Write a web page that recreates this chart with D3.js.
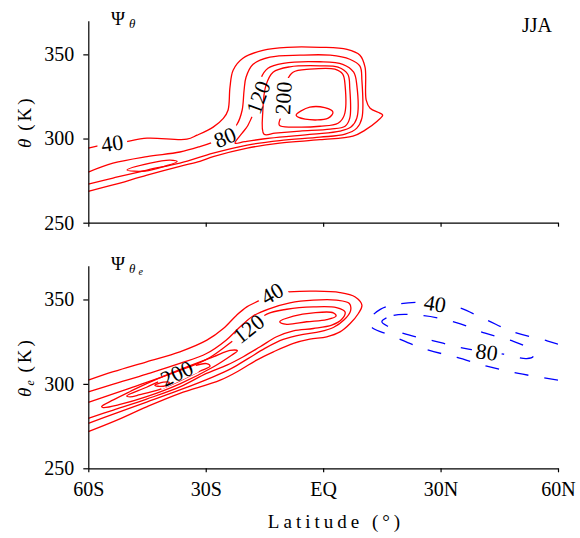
<!DOCTYPE html>
<html>
<head>
<meta charset="utf-8">
<script src="https://cdn.jsdelivr.net/npm/d3@7"></script>
<style>
  body { margin: 0; background: #fff; }
  svg text { font-family: "Liberation Serif", "Times New Roman", serif; }
</style>
</head>
<body>
<svg id="chart" width="580" height="538"></svg>
<script>
// ---- axes ----
const latTicks = [-60, -30, 0, 30, 60];
const latTickLabels = ["60S", "30S", "EQ", "30N", "60N"];
const thetaTicks = [250, 300, 350];
const thetaDomain = [250, 370];

// ---- Ψ_θ streamfunction contours: [latitude, θ (K)] ----
const psiTheta40 = [[-60,294.3],[-57,296],[-51.1,297.9],[-45,300.2],[-34.8,299.6],[-32.2,302],[-28.1,306.8],[-25.5,312],[-24.3,316.8],[-23.8,330.5],[-23,340.6],[-20.5,347.7],[-15.4,352.4],[-9.2,354.2],[-0.8,354.2],[6.1,353],[9.4,349.5],[10.7,342.4],[11,322.8],[12,318],[14.5,315.1],[15.2,313.9],[13.8,310.3],[10.7,305],[7.6,301.4],[-0.8,299.3],[-11.1,297.3],[-19.4,294.3],[-28.1,289.2],[-31.5,286.4],[-36.6,283.5],[-45,278.3],[-53.7,272.4],[-60,268.6]];
const psiTheta80 = [[-60,280.1],[-53.7,285.4],[-45,289.3],[-36.6,292],[-31.5,295.2],[-28.1,297.9],[-25.1,300.8],[-22,308.5],[-20.7,316.8],[-20.2,328.7],[-19.7,336.4],[-17.9,344.1],[-13.6,348.3],[-5.9,349.5],[1.8,349.5],[6.8,347.1],[9.4,343],[9.9,334.6],[9.9,312.1],[8.6,306.2],[5.6,302.6],[-0.8,300.8],[-11.1,298.8],[-19.4,296.1],[-28.1,291.3],[-36.6,285.4],[-45,281.3],[-53.7,276.5],[-60,272.9]];
const psiTheta120 = [[-22.5,297.3],[-20.7,303.2],[-19.2,307.9],[-16.6,324.5],[-15.9,335.8],[-14.1,341.8],[-10.2,344.7],[-0.8,345.6],[5,344.1],[7.8,339.4],[8.6,331.7],[8.6,312.1],[7.1,306.8],[4.3,304.4],[-2.6,302.6],[-13.6,300.2],[-20,298.2]];
const psiTheta120South = [[-50.1,281.3],[-44.2,285.4],[-39.1,287.2],[-37.3,286.3],[-40.4,283.6],[-45.5,280.7]];
const psiTheta160 = [[-15.1,302.6],[-15.4,316.8],[-14.6,331.7],[-12.8,339.4],[-8.5,342.6],[-0.8,343.2],[3.8,342.4],[6.3,338.2],[6.8,329.9],[6.8,312.1],[5.6,307.3],[1.8,305.6],[-5.9,304.4],[-12.3,303.2]];
const psiTheta200 = [[-11.2,307.9],[-10.4,315.7],[-10.2,324],[-9.2,334.6],[-7.7,339.4],[-3.4,341.2],[3,341.2],[5,338.2],[5.6,331.7],[5.4,313.9],[3.8,309.1],[-0.8,307.3],[-7.2,306.8]];
const psiTheta240 = [[-6.9,313.9],[-3.4,318.6],[0.4,318.3],[2.5,315.7],[1.3,312.1],[-4.6,311.5]];
const psiThetaLabels = [
  { level: 40,  lat: -53.9, theta: 297.3 },
  { level: 80,  lat: -25.1, theta: 300.8 },
  { level: 120, lat: -16.6, theta: 324.5 },
  { level: 200, lat: -10.2, theta: 324.0 }
];

// ---- Ψ_θe streamfunction contours ----
const psiThetaE40 = [[-60,302.2],[-53.6,307.2],[-45.1,313.1],[-36.6,319],[-29.7,325.9],[-25.5,332.8],[-22.1,340.7],[-19.5,345.6],[-16.1,349.6],[-13.1,353.6],[-8.9,354.5],[-2.5,354.9],[4.3,354.1],[8.2,351.5],[9.9,346.6],[9,341.7],[6.9,335.8],[4.3,330.8],[0.9,327.9],[-3.4,326.5],[-7.6,324],[-12.7,319],[-17,314.1],[-21.2,308.2],[-26.3,302.2],[-36.6,294.4],[-45.1,286.4],[-53.6,277.6],[-60,271.7]];
const psiThetaE80 = [[-60,295.3],[-53.6,299.9],[-45.1,305.8],[-36.6,312.1],[-29.8,318],[-24.8,325.9],[-21.4,333.4],[-18,340.1],[-13.6,344.6],[-8.5,348],[-2.5,349.6],[3.4,349.6],[6.7,347.6],[7,343.3],[5.3,337.8],[2.6,333.4],[-0.8,330.9],[-5.1,329.3],[-10.2,326.3],[-14.9,321],[-19.1,315.1],[-23.4,309.2],[-28.1,304.2],[-36.6,296.4],[-45.1,289.2],[-53.6,282.1],[-60,276.6]];
const psiThetaE120 = [[-60,289],[-49.3,297.5],[-38.3,306.5],[-29.8,314.5],[-24.8,322.4],[-19.1,332.8],[-14.4,341.3],[-9.3,344.2],[-2.5,345.6],[3.4,345.2],[5.6,342.6],[4.7,338.1],[2.2,334.8],[-2.5,332.8],[-7.6,331.4],[-11.9,327.9],[-16.1,322],[-20.4,316.1],[-24.6,311.1],[-29.8,306.2],[-36.6,298.2],[-45.1,291],[-53.6,284.5],[-60,279.6]];
const psiThetaE160South = [[-56.6,286.6],[-53.6,290.5],[-49.3,295.5],[-45.1,300.2],[-36.6,308.5],[-28.1,316],[-23.8,319.8],[-21.9,319.6],[-23.4,317],[-28.1,310],[-36.6,300],[-45.1,292.4],[-51.9,287.8],[-56.2,286]];
const psiThetaE160North = [[-11.1,336.8],[-7.6,340.1],[-2.5,342.1],[2.6,342.1],[3.3,340.1],[0.9,338.1],[-4.2,336.8],[-9.3,335.3]];
const psiThetaE200 = [[-50.2,292.8],[-45.1,298],[-40.8,302.6],[-37.4,306.3],[-33.2,310.5],[-29.8,312],[-28.9,310.5],[-31.5,307.5],[-36.6,301.8],[-41.7,296.8],[-46.8,293.6],[-49.3,292.3]];
const psiThetaE240 = [[-43,299.2],[-40.8,301],[-39.3,300.8],[-40.2,299],[-42.2,298.6]];
const psiThetaENeg40 = [[60,323.5],[57.2,325.5],[48.6,330.8],[41.8,337.8],[34.2,345.6],[28.6,347.7],[23.9,348.3],[18,346.8],[14.6,344.1],[12,338.8],[11.8,335.5],[12.8,332.8],[17.1,328.9],[26,320.6],[34.2,315.7],[41.8,310.5],[49.9,306.2],[60,302.2]];
const psiThetaENeg80 = [[15,336.8],[18,340.6],[25.7,340.4],[33.8,336.5],[41.4,330],[48.6,325.2],[52.4,321],[53.7,316.4],[52,315],[46.1,317.6],[41.8,319],[35.8,321.2],[28.2,325.5],[20.5,329.9],[17.1,333.4]];
const psiThetaELabels = [
  { level: 40,  lat: -13.1, theta: 353.6 },
  { level: 120, lat: -19.1, theta: 332.8 },
  { level: 200, lat: -37.4, theta: 306.3 },
  { level: -40, lat: 28.6,  theta: 347.7 },
  { level: -80, lat: 41.8,  theta: 319.0 }
];

// ---- layout ----
const W = 580, H = 538;
const svg = d3.select("#chart");
const x = d3.scaleLinear().domain([-60, 60]).range([88.3, 558]);
const yTop = d3.scaleLinear().domain(thetaDomain).range([222.7, 20.7]);
const yBot = d3.scaleLinear().domain(thetaDomain).range([468.3, 265.7]);
const defs = svg.append("defs");
const labelFont = 22;

function drawPanel(id, y, contours, labels, showLatLabels) {
  const plot = svg.append("g");
  defs.append("clipPath").attr("id", id + "-clip")
    .append("rect")
    .attr("x", x(-60)).attr("y", y(370))
    .attr("width", x(60) - x(-60)).attr("height", y(250) - y(370));

  // pixel polylines used for placing labels on their contour
  contours.forEach(c => { c.px = c.pts.map(p => [x(p[0]), y(p[1])]); c.labels = []; });

  const labelG = svg.append("g");
  labels.forEach(l => {
    const lx = x(l.lat), ly = y(l.theta);
    let best = null;
    contours.filter(c => c.level === l.level).forEach(c => {
      const n = c.px.length, segs = c.closed ? n : n - 1;
      for (let i = 0; i < segs; i++) {
        const a = c.px[i], b = c.px[(i + 1) % n];
        const dx = b[0] - a[0], dy = b[1] - a[1];
        const t = Math.max(0, Math.min(1, ((lx - a[0]) * dx + (ly - a[1]) * dy) / (dx * dx + dy * dy)));
        const qx = a[0] + t * dx, qy = a[1] + t * dy;
        const d = Math.hypot(lx - qx, ly - qy);
        if (!best || d < best.d) best = { d, c, ang: Math.atan2(dy, dx) * 180 / Math.PI };
      }
    });
    let ang = best.ang;
    if (ang > 90) ang -= 180;
    if (ang < -90) ang += 180;
    const t = labelG.append("text")
      .attr("transform", `translate(${lx},${ly}) rotate(${ang})`)
      .attr("text-anchor", "middle")
      .attr("dy", "0.35em")
      .attr("font-size", labelFont)
      .attr("fill", "#000")
      .text(Math.abs(l.level));
    const w = t.node().getComputedTextLength();
    best.c.labels.push({ x: lx, y: ly, a: ang, w: w + 8, h: labelFont * 0.75 });
  });

  contours.forEach((c, i) => {
    const m = defs.append("mask").attr("id", `${id}-m${i}`)
      .attr("maskUnits", "userSpaceOnUse")
      .attr("x", 0).attr("y", 0).attr("width", W).attr("height", H);
    m.append("rect").attr("width", W).attr("height", H).attr("fill", "#fff");
    c.labels.forEach(l => m.append("rect")
      .attr("x", -l.w / 2).attr("y", -l.h / 2).attr("width", l.w).attr("height", l.h)
      .attr("transform", `translate(${l.x},${l.y}) rotate(${l.a})`)
      .attr("fill", "#000"));
    const line = d3.line()
      .x(p => x(p[0])).y(p => y(p[1]))
      .curve(c.closed ? d3.curveCatmullRomClosed.alpha(0.5) : d3.curveCatmullRom.alpha(0.5));
    plot.append("path")
      .attr("d", line(c.pts))
      .attr("clip-path", `url(#${id}-clip)`)
      .attr("mask", `url(#${id}-m${i})`)
      .attr("fill", "none")
      .attr("stroke", c.level > 0 ? "#ff0000" : "#0000ff")
      .attr("stroke-width", 1.3)
      .attr("stroke-dasharray", c.level > 0 ? null : "14,16")
      .attr("stroke-linejoin", "round");
  });
  labelG.raise();

  // axes
  const ax = svg.append("g").attr("transform", `translate(0,${y(250)})`)
    .call(d3.axisBottom(x).tickValues(latTicks).tickSize(4).tickSizeOuter(0).tickPadding(10)
      .tickFormat((d, i) => showLatLabels ? latTickLabels[i] : ""));
  const ay = svg.append("g").attr("transform", `translate(${x(-60)},0)`)
    .call(d3.axisLeft(y).tickValues(thetaTicks).tickSize(5).tickSizeOuter(0).tickPadding(9));
  [ax, ay].forEach(g => {
    g.attr("font-size", 20).attr("font-family", null);
    g.selectAll("path, line").attr("stroke", "#000").attr("stroke-width", 1.2);
    g.selectAll("text").attr("fill", "#000");
  });
}

drawPanel("top", yTop, [
  { level: 40,  closed: false, pts: psiTheta40 },
  { level: 80,  closed: false, pts: psiTheta80 },
  { level: 120, closed: true,  pts: psiTheta120 },
  { level: 120, closed: true,  pts: psiTheta120South },
  { level: 160, closed: true,  pts: psiTheta160 },
  { level: 200, closed: true,  pts: psiTheta200 },
  { level: 240, closed: true,  pts: psiTheta240 }
], psiThetaLabels, false);

drawPanel("bot", yBot, [
  { level: 40,  closed: false, pts: psiThetaE40 },
  { level: 80,  closed: false, pts: psiThetaE80 },
  { level: 120, closed: false, pts: psiThetaE120 },
  { level: 160, closed: true,  pts: psiThetaE160South },
  { level: 160, closed: true,  pts: psiThetaE160North },
  { level: 200, closed: true,  pts: psiThetaE200 },
  { level: 240, closed: true,  pts: psiThetaE240 },
  { level: -40, closed: false, pts: psiThetaENeg40 },
  { level: -80, closed: true,  pts: psiThetaENeg80 }
], psiThetaELabels, true);

// ---- titles and axis names ----
const t1 = svg.append("text").attr("x", 111).attr("y", 25).attr("font-size", 19);
t1.append("tspan").text("Ψ");
t1.append("tspan").attr("dx", 4).attr("dy", 3).attr("font-size", 13).attr("font-style", "italic").text("θ");

const t2 = svg.append("text").attr("x", 111).attr("y", 270).attr("font-size", 19);
t2.append("tspan").text("Ψ");
t2.append("tspan").attr("dx", 4).attr("dy", 3).attr("font-size", 13).attr("font-style", "italic").text("θ");
t2.append("tspan").attr("dx", 3).attr("dy", 2).attr("font-size", 10).attr("font-style", "italic").text("e");

svg.append("text").attr("x", 552).attr("y", 32).attr("text-anchor", "end").attr("font-size", 20).text("JJA");

const yl1 = svg.append("text")
  .attr("transform", `translate(31,${(yTop(250) + yTop(370)) / 2}) rotate(-90)`)
  .attr("text-anchor", "middle").attr("font-size", 19);
yl1.append("tspan").attr("font-style", "italic").text("θ");
yl1.append("tspan").attr("letter-spacing", 3).text(" (K)");

const yl2 = svg.append("text")
  .attr("transform", `translate(31,${(yBot(250) + yBot(370)) / 2}) rotate(-90)`)
  .attr("text-anchor", "middle").attr("font-size", 19);
yl2.append("tspan").attr("font-style", "italic").text("θ");
yl2.append("tspan").attr("font-style", "italic").attr("font-size", 12).attr("dx", 2).attr("dy", 3).text("e");
yl2.append("tspan").attr("letter-spacing", 3).attr("dy", -3).text(" (K)");

svg.append("text").attr("x", 336).attr("y", 528).attr("text-anchor", "middle")
  .attr("font-size", 19).attr("letter-spacing", 4).text("Latitude (°)");
</script>
</body>
</html>
